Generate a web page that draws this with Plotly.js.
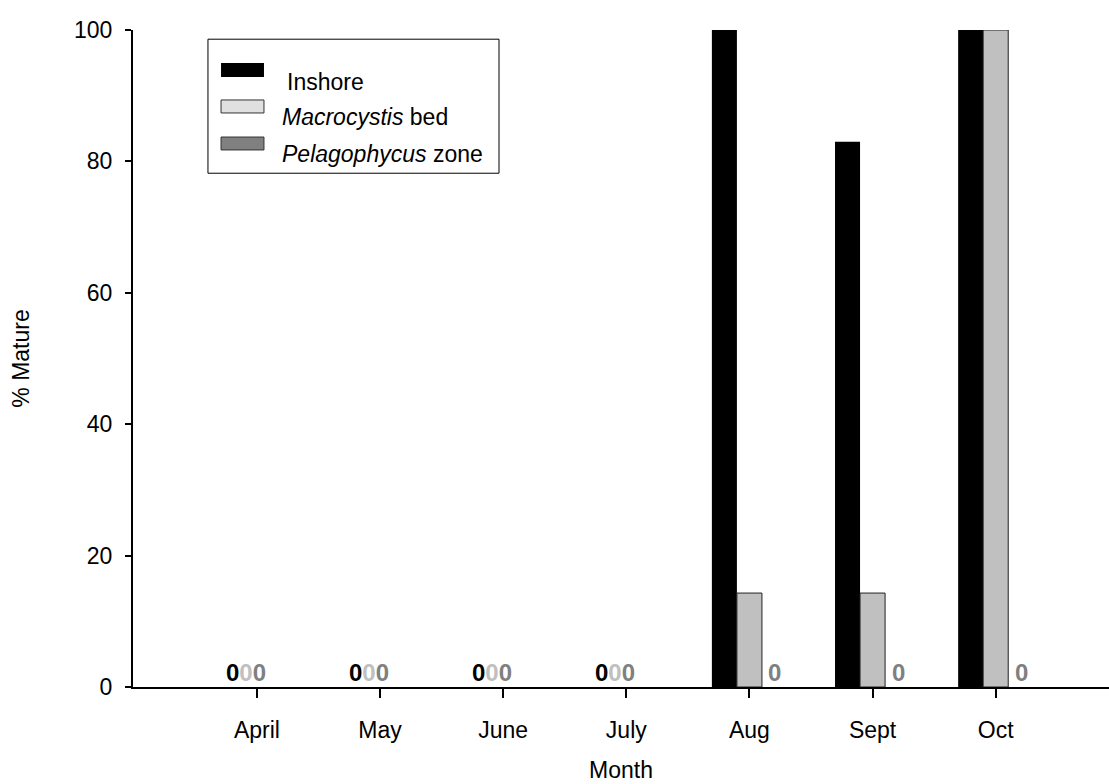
<!DOCTYPE html>
<html>
<head>
<meta charset="utf-8">
<script src="https://cdn.plot.ly/plotly-3.0.1.min.js"></script>
<style>html,body{margin:0;padding:0;background:#fff;}#chart{width:1109px;height:784px;}</style>
</head>
<body>
<div id="chart"></div>
<script>
const months = ["April", "May", "June", "July", "Aug", "Sept", "Oct"];
const seriesNames = ["Inshore", "<i>Macrocystis</i> bed", "<i>Pelagophycus</i> zone"];
const inshore = [0, 0, 0, 0, 100, 83, 100];
const macrocystis = [0, 0, 0, 0, 14.3, 14.3, 100];
const pelagophycus = [0, 0, 0, 0, 0, 0, 0];
const barColors = ["#000000", "#c0c0c0", "#808080"];
const legendColors = ["#000000", "#e0e0e0", "#808080"];
const yTicks = [0, 20, 40, 60, 80, 100];

const allSeries = [inshore, macrocystis, pelagophycus];
const FONT = "Arial, 'Liberation Sans', sans-serif";
const FS = 23;
const bargap = 0.39;
const nSeries = allSeries.length;
const barW = (1 - bargap) / nSeries;

const traces = allSeries.map((vals, k) => ({
  type: "bar",
  x: months,
  y: vals,
  name: seriesNames[k],
  marker: {
    color: barColors[k],
    line: {color: "#222", width: vals.map(v => (k === 0 || v === 0) ? 0 : 1)}
  },
  showlegend: false,
  hoverinfo: "skip"
}));

// zero labels
const annotations = [];
months.forEach((m, i) => {
  let k = 0;
  while (k < nSeries) {
    if (allSeries[k][i] === 0) {
      const start = k;
      let txt = "";
      while (k < nSeries && allSeries[k][i] === 0) {
        txt += '<span style="color:' + barColors[k] + '">0</span>';
        k++;
      }
      annotations.push({
        x: i + (start - (nSeries - 1) / 2) * barW,
        y: 0, xref: "x", yref: "y",
        text: "<b>" + txt + "</b>",
        showarrow: false, xanchor: "left", yanchor: "bottom",
        xshift: -8, yshift: -1,
        font: {family: FONT, size: 24, color: "#000"}
      });
    } else {
      k++;
    }
  }
});

// custom legend (paper coordinates)
const shapes = [{
  type: "rect", xref: "paper", yref: "paper",
  x0: 0.0768, x1: 0.375, y0: 0.782, y1: 0.986,
  line: {color: "#000", width: 1}, fillcolor: "#fff"
}];
const rowY = [[0.9285, 0.9498], [0.8737, 0.8935], [0.8174, 0.8371]];
const textY = [0.9209, 0.8676, 0.8113];
const textX = [0.1557, 0.1506, 0.1506];
seriesNames.forEach((nm, k) => {
  shapes.push({
    type: "rect", xref: "paper", yref: "paper",
    x0: 0.0902, x1: 0.1342, y0: rowY[k][0], y1: rowY[k][1],
    line: {color: "#333", width: k === 0 ? 0 : 1}, fillcolor: legendColors[k]
  });
  annotations.push({
    xref: "paper", yref: "paper", x: textX[k], y: textY[k],
    text: nm, showarrow: false, xanchor: "left", yanchor: "middle",
    font: {family: FONT, size: FS, color: "#000"}
  });
});

const layout = {
  width: 1109, height: 784,
  margin: {l: 133, r: 0, t: 30, b: 97, pad: 0},
  paper_bgcolor: "#fff", plot_bgcolor: "#fff",
  barmode: "group", bargap: bargap, bargroupgap: 0,
  font: {family: FONT, size: FS, color: "#000"},
  xaxis: {
    type: "category", range: [-1.006, 6.92],
    showline: true, linecolor: "#000", linewidth: 2,
    ticks: "outside", ticklen: 9, tickwidth: 2, tickcolor: "#000",
    ticklabelstandoff: 12,
    showgrid: false, zeroline: false,
    title: {text: "Month", font: {family: FONT, size: FS}, standoff: 20},
    tickfont: {family: FONT, size: FS}
  },
  yaxis: {
    range: [0, 100], tickvals: yTicks, ticktext: yTicks.map(String),
    showline: true, linecolor: "#000", linewidth: 2,
    ticks: "outside", ticklen: 6, tickwidth: 2, tickcolor: "#000",
    ticklabelstandoff: 8,
    showgrid: false, zeroline: false,
    title: {text: "% Mature", font: {family: FONT, size: FS}, standoff: 38},
    tickfont: {family: FONT, size: FS}
  },
  shapes: shapes,
  annotations: annotations,
  showlegend: false
};

Plotly.newPlot("chart", traces, layout, {displayModeBar: false, staticPlot: true});
</script>
</body>
</html>
